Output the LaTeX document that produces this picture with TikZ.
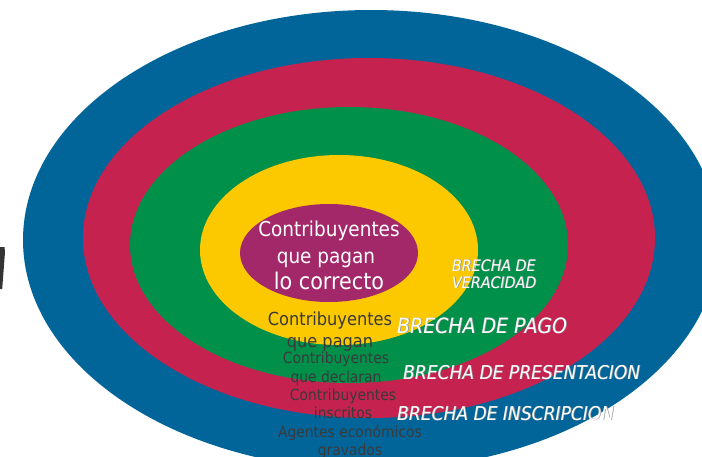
\documentclass[tikz,border=0pt]{standalone}
\usepackage{fontspec}
\setmainfont{DejaVu Sans}[FakeStretch=0.9]
\newcommand\fsz[1]{\fontsize{#1}{#1}\selectfont}
\definecolor{cblue}{HTML}{02659A}
\definecolor{cred}{HTML}{C52250}
\definecolor{cgreen}{HTML}{00904A}
\definecolor{cyellow}{HTML}{FCC800}
\definecolor{cpurple}{HTML}{A3286A}
\definecolor{ctext}{HTML}{3A3A3A}
\definecolor{cshadow}{HTML}{9A9A9A}
\tikzset{
  wt/.style={text=white, inner sep=0pt, anchor=base},
  dk/.style={text=ctext, inner sep=0pt, anchor=base},
  gap/.style={text=white, inner sep=0pt, anchor=base west, font=\itshape\fsz{#1}},
  gapsh/.style={text=cshadow, inner sep=0pt, anchor=base west, font=\itshape\fsz{#1}},
}
\begin{document}
\begin{tikzpicture}[x=1pt,y=-1pt]
\useasboundingbox (0,0) rectangle (702,456);
\begin{scope}
\clip (0,0) rectangle (702,456);
\fill[cblue] (371,240) ellipse [x radius=348pt, y radius=230pt];
\fill[cred] (369,238) ellipse [x radius=286pt, y radius=180pt];
\fill[cgreen] (349,245) ellipse [x radius=219pt, y radius=138pt];
\fill[cyellow] (339,250) ellipse [x radius=139pt, y radius=95pt];
\fill[cpurple] (329,253) ellipse [x radius=89pt, y radius=49pt];
\fill[ctext!90!black] (0,247) -- (4.5,247) -- (5,252) -- (2.2,289) -- (0,289) -- cycle;
\end{scope}
% centre
\node[wt, font=\fsz{20.5}] (c1) at (329,236) {Contribuyentes};
\node[wt, font=\fsz{20.5}] (c2) at (326,263) {que pagan};
\node[wt, font=\fsz{23}] (c3) at (329,289) {lo correcto};
% dark labels
\node[dk, font=\fsz{18}] (p1) at (330,325) {Contribuyentes};
\node[dk, font=\fsz{18}] (p2) at (330,347) {que pagan};
\node[dk, font=\fsz{15.4}] (d1) at (336,363) {Contribuyentes};
\node[dk, font=\fsz{15.4}] (d2) at (336,382) {que declaran};
\node[dk, font=\fsz{15.4}] (i1) at (343,400) {Contribuyentes};
\node[dk, font=\fsz{15.4}] (i2) at (343,418) {inscritos};
\node[dk, font=\fsz{15.4}] (a1) at (350,437) {Agentes económicos};
\node[dk, font=\fsz{15.4}] (a2) at (350,455) {gravados};
% gap labels
\node[gapsh=15.8] (v1s) at (452.8,271.8) {BRECHA DE};
\node[gap=15.8] (v1) at (452,271) {BRECHA DE};
\node[gapsh=15.8] (v2s) at (452.8,288.8) {VERACIDAD};
\node[gap=15.8] (v2) at (452,288) {VERACIDAD};
\node[gapsh=21] (pgs) at (397.8,333.8) {BRECHA DE PAGO};
\node[gap=21] (pg) at (397,333) {BRECHA DE PAGO};
\node[gapsh=19] (prs) at (403.8,379.8) {BRECHA DE PRESENTACION};
\node[gap=19] (pr) at (403,379) {BRECHA DE PRESENTACION};
\node[gapsh=19] (ins) at (397.8,420.8) {BRECHA DE INSCRIPCION};
\node[gap=19] (in) at (397,420) {BRECHA DE INSCRIPCION};
\end{tikzpicture}
\end{document}
